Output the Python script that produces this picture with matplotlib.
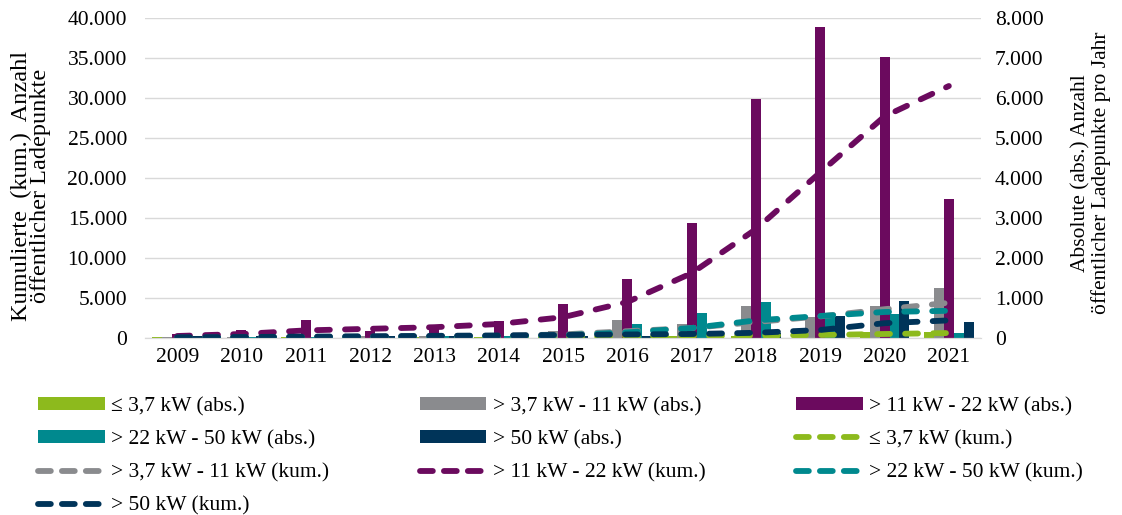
import numpy as np
import matplotlib
matplotlib.use("Agg")
import matplotlib.pyplot as plt
from matplotlib.patches import Patch
from matplotlib.lines import Line2D
from matplotlib.ticker import FuncFormatter, MultipleLocator

plt.rcParams['font.family'] = ['Liberation Serif', 'DejaVu Serif']

# %% Daten
years = [2009, 2010, 2011, 2012, 2013, 2014, 2015, 2016, 2017, 2018, 2019, 2020, 2021]

# absolute Anzahl pro Jahr (rechte Achse)
abs_37 = [20, 10, 20, 20, 20, 30, 30, 40, 60, 50, 100, 150, 150]
abs_37_11 = [30, 30, 40, 40, 50, 60, 180, 450, 350, 810, 530, 810, 1250]
abs_11_22 = [100, 200, 450, 180, 220, 430, 860, 1470, 2880, 5980, 7780, 7030, 3480]
abs_22_50 = [20, 20, 30, 40, 40, 50, 140, 350, 615, 890, 560, 600, 115]
abs_50 = [60, 40, 50, 50, 50, 50, 60, 60, 60, 120, 560, 930, 410]

# kumulierte Anzahl (linke Achse)
kum_37 = [20, 30, 50, 70, 90, 120, 150, 190, 250, 300, 380, 500, 620]
kum_37_11 = [50, 80, 120, 160, 210, 270, 450, 850, 1250, 2000, 2700, 3600, 4400]
kum_11_22 = [250, 500, 950, 1150, 1350, 1750, 2600, 4500, 8100, 13600, 20700, 27700, 31500]
kum_22_50 = [30, 50, 80, 120, 160, 200, 350, 700, 1250, 2200, 2750, 3250, 3400]
kum_50 = [80, 120, 170, 220, 270, 320, 380, 440, 500, 650, 1000, 1850, 2200]

names = ['≤ 3,7 kW', '> 3,7 kW - 11 kW', '> 11 kW - 22 kW', '> 22 kW - 50 kW', '> 50 kW']
colors = ['#8DBA1D', '#8A8B8E', '#6B0A5E', '#00898E', '#003459']
abs_series = [abs_37, abs_37_11, abs_11_22, abs_22_50, abs_50]
kum_series = [kum_37, kum_37_11, kum_11_22, kum_22_50, kum_50]

# %% Figur
W, H = 1122, 515
fig = plt.figure(figsize=(W / 100, H / 100), dpi=100)
ax = fig.add_axes([145 / W, 1 - 338 / H, (981 - 145) / W, 320 / H])
ax2 = ax.twinx()
ax.set_zorder(ax2.get_zorder() + 1)
ax.patch.set_visible(False)

x = np.arange(len(years))
bw = 0.155
for i, (vals, c) in enumerate(zip(abs_series, colors)):
    ax2.bar(x + (i - 2) * bw, vals, width=bw, color=c, linewidth=0)

lw = 4.2
for vals, c in zip(kum_series, colors):
    ax.plot(x, vals, color=c, lw=lw, linestyle=(0, (2.2, 2.6)),
            dash_capstyle='round', solid_capstyle='round')

ax.set_xlim(-0.5, len(years) - 0.5)
ax.set_ylim(0, 40000)
ax2.set_ylim(0, 8000)
ax.yaxis.set_major_locator(MultipleLocator(5000))
ax2.yaxis.set_major_locator(MultipleLocator(1000))
fmt = FuncFormatter(lambda v, p: f"{int(v):,}".replace(",", "."))
ax.yaxis.set_major_formatter(fmt)
ax2.yaxis.set_major_formatter(fmt)

ax.set_xticks(x, labels=[str(y) for y in years])
fs = 15.5
ax.tick_params(axis='x', length=0, pad=7, labelsize=fs)
ax.tick_params(axis='y', length=0, pad=13, labelsize=fs)
ax2.tick_params(axis='y', length=0, pad=10, labelsize=fs)

ax2.yaxis.grid(True, color='#D9D9D9', lw=1)
ax2.set_axisbelow(True)
for a in (ax, ax2):
    for s in ('top', 'left', 'right'):
        a.spines[s].set_visible(False)
    a.spines['bottom'].set_color('#D9D9D9')

fig.text(31 / W, 1 - 186 / H, 'Kumulierte  (kum.)  Anzahl\nöffentlicher Ladepunkte',
         rotation=90, ha='center', va='center', multialignment='center',
         fontsize=17.5, linespacing=0.88)
fig.text(1091 / W, 1 - 173 / H, 'Absolute (abs.) Anzahl\nöffentlicher Ladepunkte pro Jahr',
         rotation=90, ha='center', va='center', multialignment='center',
         fontsize=fs, linespacing=1.0)

# %% Legende (Reihenfolge zeilenweise wie im Original)
bar_h = [Patch(facecolor=c, edgecolor='none') for c in colors]
line_h = [Line2D([0], [0], color=c, lw=lw, linestyle=(0, (2.2, 1.9)),
                 dash_capstyle='round') for c in colors]
bar_l = [n + ' (abs.)' for n in names]
line_l = [n + ' (kum.)' for n in names]
entries = list(zip(bar_h, bar_l)) + list(zip(line_h, line_l))
# zeilenweise -> spaltenweise fuer ncol=3 (Spalten mit 4, 3, 3 Eintraegen)
order = [0, 3, 6, 9, 1, 4, 7, 2, 5, 8]
handles = [entries[k][0] for k in order]
labels = [entries[k][1] for k in order]
fig.legend(handles, labels, ncol=3, loc='upper left',
           bbox_to_anchor=(38 / W, 1 - 402 / H, 1045 / W, 0.01), mode='expand',
           frameon=False, fontsize=fs, handlelength=3.1, handleheight=0.55,
           handletextpad=0.3, labelspacing=0.65, borderpad=0, borderaxespad=0)

fig.savefig('out.png', dpi=100)
